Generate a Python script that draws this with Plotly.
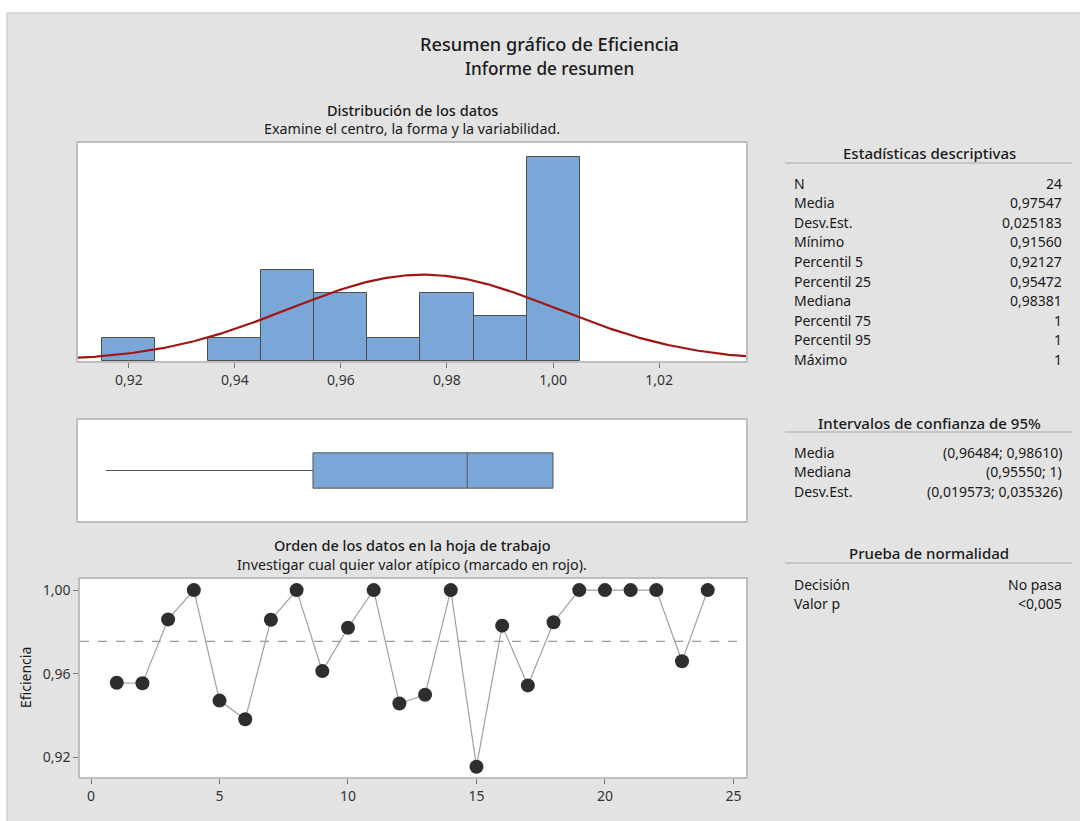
import numpy as np
import plotly.graph_objects as go

# Efficiency observations in worksheet order
orden = list(range(1, 25))
eficiencia = [0.9557, 0.9555, 0.9860, 1.0, 0.9472, 0.93828, 0.9858, 1.0,
              0.9613, 0.9820, 1.0, 0.9458, 0.9500, 1.0, 0.9156, 0.9830,
              0.95446, 0.98462, 1.0, 1.0, 1.0, 1.0, 0.9660, 1.0]

# Descriptive statistics reported in the side panel
media = 0.97547
desv_est = 0.025183
minimo = 0.91560
p25 = 0.95472
mediana = 0.98381
p75 = 1.0
maximo = 1.0

etiquetas_desc = ["N", "Media", "Desv.Est.", "Mínimo", "Percentil 5", "Percentil 25",
                  "Mediana", "Percentil 75", "Percentil 95", "Máximo"]
valores_desc = ["24", "0,97547", "0,025183", "0,91560", "0,92127", "0,95472",
                "0,98381", "1", "1", "1"]
etiquetas_ic = ["Media", "Mediana", "Desv.Est."]
valores_ic = ["(0,96484; 0,98610)", "(0,95550; 1)", "(0,019573; 0,035326)"]
etiquetas_norm = ["Decisión", "Valor p"]
valores_norm = ["No pasa", "<0,005"]

hist_ticks = [0.92, 0.94, 0.96, 0.98, 1.00, 1.02]
orden_ticks = [0, 5, 10, 15, 20, 25]
ef_ticks = [0.92, 0.96, 1.00]

W, H = 1080, 821
FONT = "Noto Sans"
BG = "#E3E3E3"
FRAME = "#BEBEBE"
BAR = "#7BA6D8"
TXT = "#1A1A1A"


def px(x):
    return x / W


def py(y):
    return 1 - y / H


fig = go.Figure()

# Histogram with fitted normal curve
fig.add_trace(go.Histogram(
    x=eficiencia, xbins=dict(start=0.915, end=1.005, size=0.01),
    marker=dict(color=BAR, line=dict(color="#4F4F4F", width=1)),
    xaxis="x", yaxis="y", hoverinfo="skip", showlegend=False))

xs = np.linspace(0.905, 1.04, 400)
ancho_bin = 0.01
curva = len(eficiencia) * ancho_bin * np.exp(-0.5 * ((xs - media) / desv_est) ** 2) / (desv_est * np.sqrt(2 * np.pi))
fig.add_trace(go.Scatter(x=xs, y=curva, mode="lines", line=dict(color="#A01515", width=2.2),
                         xaxis="x", yaxis="y", hoverinfo="skip", showlegend=False))

# Box plot from the reported quartiles
fig.add_trace(go.Box(
    y=[0], q1=[p25], median=[mediana], q3=[p75], lowerfence=[minimo], upperfence=[maximo],
    orientation="h", width=0.7, whiskerwidth=0,
    fillcolor=BAR, line=dict(color="#555555", width=1),
    xaxis="x2", yaxis="y2", hoverinfo="skip", showlegend=False))

# Observation order chart
fig.add_trace(go.Scatter(
    x=orden, y=eficiencia, mode="lines+markers",
    line=dict(color="#A0A0A0", width=1.2),
    marker=dict(color="#2E2E2E", size=14),
    xaxis="x3", yaxis="y3", hoverinfo="skip", showlegend=False))

eje_comun = dict(showline=True, mirror=True, linecolor=FRAME, linewidth=1.5,
                 showgrid=False, zeroline=False,
                 tickfont=dict(family=FONT, size=14, color="#333333"))

fig.update_layout(
    width=W, height=H,
    margin=dict(l=0, r=0, t=0, b=0),
    paper_bgcolor=BG, plot_bgcolor="white",
    separators=",.",
    bargap=0,
    font=dict(family=FONT, color=TXT),
    xaxis=dict(domain=[px(78), px(746)], anchor="y", range=[0.9104, 1.0364],
               tickvals=hist_ticks, tickformat=".2f", ticks="outside", ticklen=5,
               tickcolor="#777777", **eje_comun),
    yaxis=dict(domain=[py(361), py(143)], anchor="x", range=[0, 9.6],
               showticklabels=False, ticks="", **eje_comun),
    xaxis2=dict(domain=[px(78), px(746)], anchor="y2", range=[0.9104, 1.0364],
                showticklabels=False, ticks="", **eje_comun),
    yaxis2=dict(domain=[py(521), py(420)], anchor="x2", range=[-1, 1],
                showticklabels=False, ticks="", **eje_comun),
    xaxis3=dict(domain=[px(80), px(746)], anchor="y3", range=[-0.43, 25.49],
                tickvals=orden_ticks, ticks="outside", ticklen=5,
                tickcolor="#777777", **eje_comun),
    yaxis3=dict(domain=[py(777), py(579)], anchor="x3", range=[0.9107, 1.0053],
                tickvals=ef_ticks, tickformat=".2f", ticks="outside", ticklen=5,
                tickcolor="#777777", **eje_comun),
)

shapes = [
    # white strip above and left of the report panel
    dict(type="rect", xref="paper", yref="paper", x0=0, x1=1, y0=py(13), y1=1,
         fillcolor="white", line=dict(width=0), layer="below"),
    dict(type="rect", xref="paper", yref="paper", x0=0, x1=px(7), y0=0, y1=1,
         fillcolor="white", line=dict(width=0), layer="below"),
    dict(type="line", xref="paper", yref="paper", x0=px(7), x1=1, y0=py(13), y1=py(13),
         line=dict(color="#D2D2D2", width=1.5)),
    dict(type="line", xref="paper", yref="paper", x0=px(7), x1=px(7), y0=0, y1=py(13),
         line=dict(color="#D2D2D2", width=1.5)),
    # mean reference line on the order chart
    dict(type="line", xref="x3 domain", yref="y3", x0=0, x1=1, y0=media, y1=media,
         line=dict(color="#9A9A9A", width=1.2, dash="dash")),
]
for yl in (163, 432, 563):
    shapes.append(dict(type="line", xref="paper", yref="paper", x0=px(785), x1=px(1072),
                       y0=py(yl), y1=py(yl), line=dict(color="#A8A8A8", width=1.2)))

annotations = []


def texto(t, x, y, size, anchor="center", weight="normal", angle=0):
    annotations.append(dict(text=t, x=px(x), y=py(y), xref="paper", yref="paper",
                            xanchor=anchor, yanchor="middle", showarrow=False,
                            textangle=angle, borderpad=0,
                            font=dict(family=FONT, size=size, color=TXT, weight=weight)))


texto("Resumen gráfico de Eficiencia", 549, 44, 18.2, weight=500)
texto("Informe de resumen", 549, 68, 17.2, weight=500)
texto("Distribución de los datos", 412, 110, 14.5, weight=500)
texto("Examine el centro, la forma y la variabilidad.", 412, 128, 14.3)
texto("Orden de los datos en la hoja de trabajo", 412, 545, 14.5, weight=500)
texto("Investigar cual quier valor atípico (marcado en rojo).", 412, 564, 14.3)
texto("Eficiencia", 25, 678, 14, angle=-90)

texto("Estadísticas descriptivas", 929, 153, 15, weight=500)
for i, (e, v) in enumerate(zip(etiquetas_desc, valores_desc)):
    y = 183.3 + i * 19.56
    texto(e, 793, y, 14, anchor="left")
    texto(v, 1063, y, 14, anchor="right")

texto("Intervalos de confianza de 95%", 929, 423, 15, weight=500)
for i, (e, v) in enumerate(zip(etiquetas_ic, valores_ic)):
    y = 452.3 + i * 19.4
    texto(e, 793, y, 14, anchor="left")
    texto(v, 1063, y, 14, anchor="right")

texto("Prueba de normalidad", 929, 553, 15, weight=500)
for i, (e, v) in enumerate(zip(etiquetas_norm, valores_norm)):
    y = 584 + i * 19.2
    texto(e, 793, y, 14, anchor="left")
    texto(v, 1063, y, 14, anchor="right")

fig.update_layout(shapes=shapes, annotations=annotations)
fig.write_html("out.html")
